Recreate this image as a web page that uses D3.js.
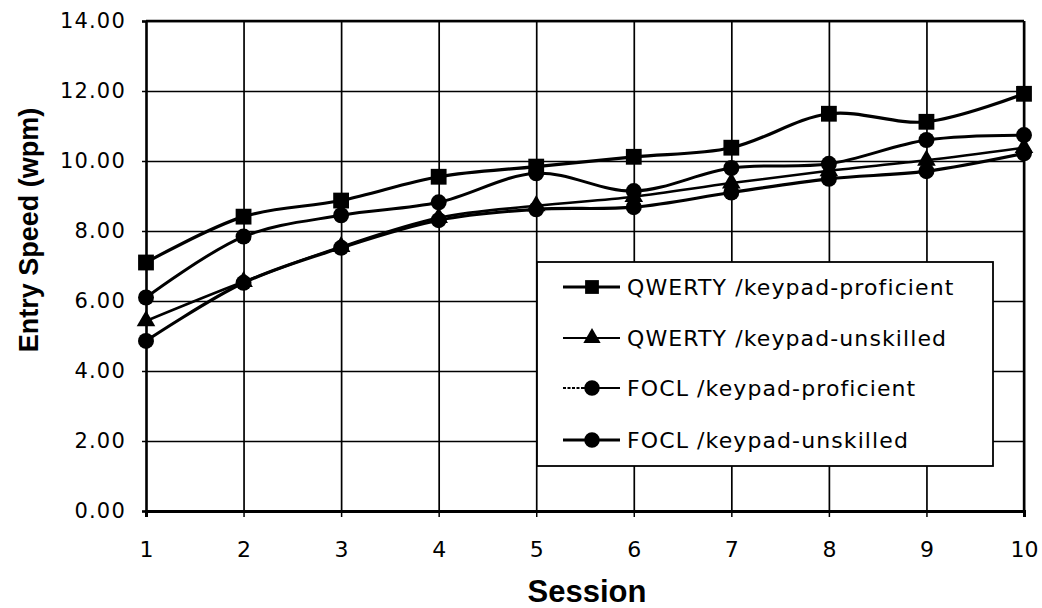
<!DOCTYPE html>
<html>
<head>
<meta charset="utf-8">
<script src="https://cdn.jsdelivr.net/npm/d3@7"></script>
<style>
  html, body { margin: 0; padding: 0; background: #fff; }
  svg { display: block; }
</style>
</head>
<body>
<svg id="chart" width="1042" height="608"></svg>
<script>
// Session numbers and mean entry speed (wpm) per group
const sessions = [1, 2, 3, 4, 5, 6, 7, 8, 9, 10];
const qwertyProficient = [7.10, 8.41, 8.87, 9.55, 9.84, 10.12, 10.38, 11.35, 11.12, 11.92];
const qwertyUnskilled  = [5.43, 6.55, 7.55, 8.38, 8.72, 8.98, 9.37, 9.72, 10.02, 10.38];
const foclProficient   = [6.10, 7.84, 8.45, 8.82, 9.65, 9.14, 9.80, 9.92, 10.60, 10.74];
const foclUnskilled    = [4.86, 6.52, 7.52, 8.31, 8.62, 8.68, 9.10, 9.49, 9.71, 10.22];
const seriesNames = [
  "QWERTY /keypad-proficient",
  "QWERTY /keypad-unskilled",
  "FOCL /keypad-proficient",
  "FOCL /keypad-unskilled"
];
const yTicks = [0, 2, 4, 6, 8, 10, 12, 14];

const svg = d3.select("#chart");
const plotLeft = 146, plotRight = 1024, plotTop = 21, plotBottom = 511;

const x = d3.scaleLinear().domain([1, 10]).range([plotLeft, plotRight]);
const y = d3.scaleLinear().domain([0, 14]).range([plotBottom, plotTop]);

const tickFont = "'DejaVu Sans', sans-serif";
const titleFont = "'Liberation Sans', Arial, sans-serif";

// Gridlines
svg.append("g")
  .attr("transform", `translate(${plotLeft},0)`)
  .call(d3.axisLeft(y).tickValues(yTicks).tickSize(-(plotRight - plotLeft)).tickFormat(""))
  .call(g => g.select(".domain").remove())
  .call(g => g.selectAll("line").attr("stroke", "#000").attr("stroke-width", 1.7));

svg.append("g")
  .attr("transform", `translate(0,${plotBottom})`)
  .call(d3.axisBottom(x).tickValues(sessions).tickSize(-(plotBottom - plotTop)).tickFormat(""))
  .call(g => g.select(".domain").remove())
  .call(g => g.selectAll("line").attr("stroke", "#000").attr("stroke-width", 1.7));

// Y axis with labels
const yAxis = svg.append("g")
  .attr("transform", `translate(${plotLeft},0)`)
  .call(d3.axisLeft(y).tickValues(yTicks).tickSize(4).tickPadding(16).tickFormat(d3.format(".2f")));
yAxis.select(".domain").attr("stroke", "#000").attr("stroke-width", 2.4);
yAxis.selectAll("line").attr("stroke", "#000").attr("stroke-width", 1.5);
yAxis.selectAll("text")
  .attr("font-family", tickFont).attr("font-size", 21).attr("fill", "#000")
  .attr("letter-spacing", "1.2px");

// X axis with labels
const xAxis = svg.append("g")
  .attr("transform", `translate(0,${plotBottom})`)
  .call(d3.axisBottom(x).tickValues(sessions).tickSize(6).tickPadding(24).tickFormat(d3.format("d")));
xAxis.select(".domain").attr("stroke", "#000").attr("stroke-width", 3);
xAxis.selectAll("line").attr("stroke", "#000").attr("stroke-width", 1.5);
xAxis.selectAll("text")
  .attr("font-family", tickFont).attr("font-size", 22).attr("fill", "#000");

// Frame top and right
svg.append("line").attr("x1", plotLeft).attr("x2", plotRight).attr("y1", plotTop).attr("y2", plotTop)
  .attr("stroke", "#000").attr("stroke-width", 2.4);
svg.append("line").attr("x1", plotRight).attr("x2", plotRight).attr("y1", plotTop).attr("y2", plotBottom)
  .attr("stroke", "#000").attr("stroke-width", 2.4);

// Axis titles
svg.append("text")
  .attr("transform", `translate(38,${(107 + 353) / 2}) rotate(-90)`)
  .attr("text-anchor", "middle")
  .attr("font-family", titleFont).attr("font-weight", "bold").attr("font-size", 27)
  .text("Entry Speed (wpm)");

svg.append("text")
  .attr("x", 587).attr("y", 602)
  .attr("text-anchor", "middle")
  .attr("font-family", titleFont).attr("font-weight", "bold").attr("font-size", 31)
  .text("Session");

// Series
const series = [
  { name: seriesNames[0], values: qwertyProficient, symbol: d3.symbolSquare, size: 250, width: 3.2 },
  { name: seriesNames[1], values: qwertyUnskilled,  symbol: d3.symbolTriangle, size: 150, width: 2.6 },
  { name: seriesNames[2], values: foclProficient,   symbol: d3.symbolCircle, size: 200, width: 3 },
  { name: seriesNames[3], values: foclUnskilled,    symbol: d3.symbolCircle, size: 200, width: 3.2 }
];

const line = d3.line()
  .x((d, i) => x(sessions[i]))
  .y(d => y(d))
  .curve(d3.curveCatmullRom.alpha(0.5));

series.forEach(s => {
  svg.append("path")
    .attr("d", line(s.values))
    .attr("fill", "none")
    .attr("stroke", "#000")
    .attr("stroke-width", s.width)
    .attr("stroke-linejoin", "round");
});

series.forEach(s => {
  svg.append("g").selectAll("path")
    .data(s.values)
    .join("path")
    .attr("transform", (d, i) => `translate(${x(sessions[i])},${y(d)})`)
    .attr("d", d3.symbol().type(s.symbol).size(s.size))
    .attr("fill", "#000");
});

// Legend
const legend = svg.append("g").attr("transform", "translate(537,262)");
legend.append("rect")
  .attr("width", 456).attr("height", 204)
  .attr("fill", "#fff").attr("stroke", "#000").attr("stroke-width", 1.8);

const rowY = [25, 76, 126, 178];
series.forEach((s, i) => {
  const row = legend.append("g").attr("transform", `translate(0,${rowY[i]})`);
  row.append("line")
    .attr("x1", 26).attr("x2", 83).attr("y1", 0).attr("y2", 0)
    .attr("stroke", "#000").attr("stroke-width", i === 1 || i === 2 ? 2 : 3)
    .attr("stroke-dasharray", i === 2 ? "3,1.5,3,1.5,3,1.5,3,1.5,10,0,40" : null);
  row.append("path")
    .attr("transform", "translate(55,0)")
    .attr("d", d3.symbol().type(s.symbol).size(i === 1 ? 130 : 190))
    .attr("fill", "#000");
  row.append("text")
    .attr("x", 90).attr("y", 0).attr("dy", "0.35em")
    .attr("font-family", tickFont).attr("font-size", 22).attr("fill", "#000")
    .attr("letter-spacing", "1.1px")
    .text(s.name);
});
</script>
</body>
</html>
